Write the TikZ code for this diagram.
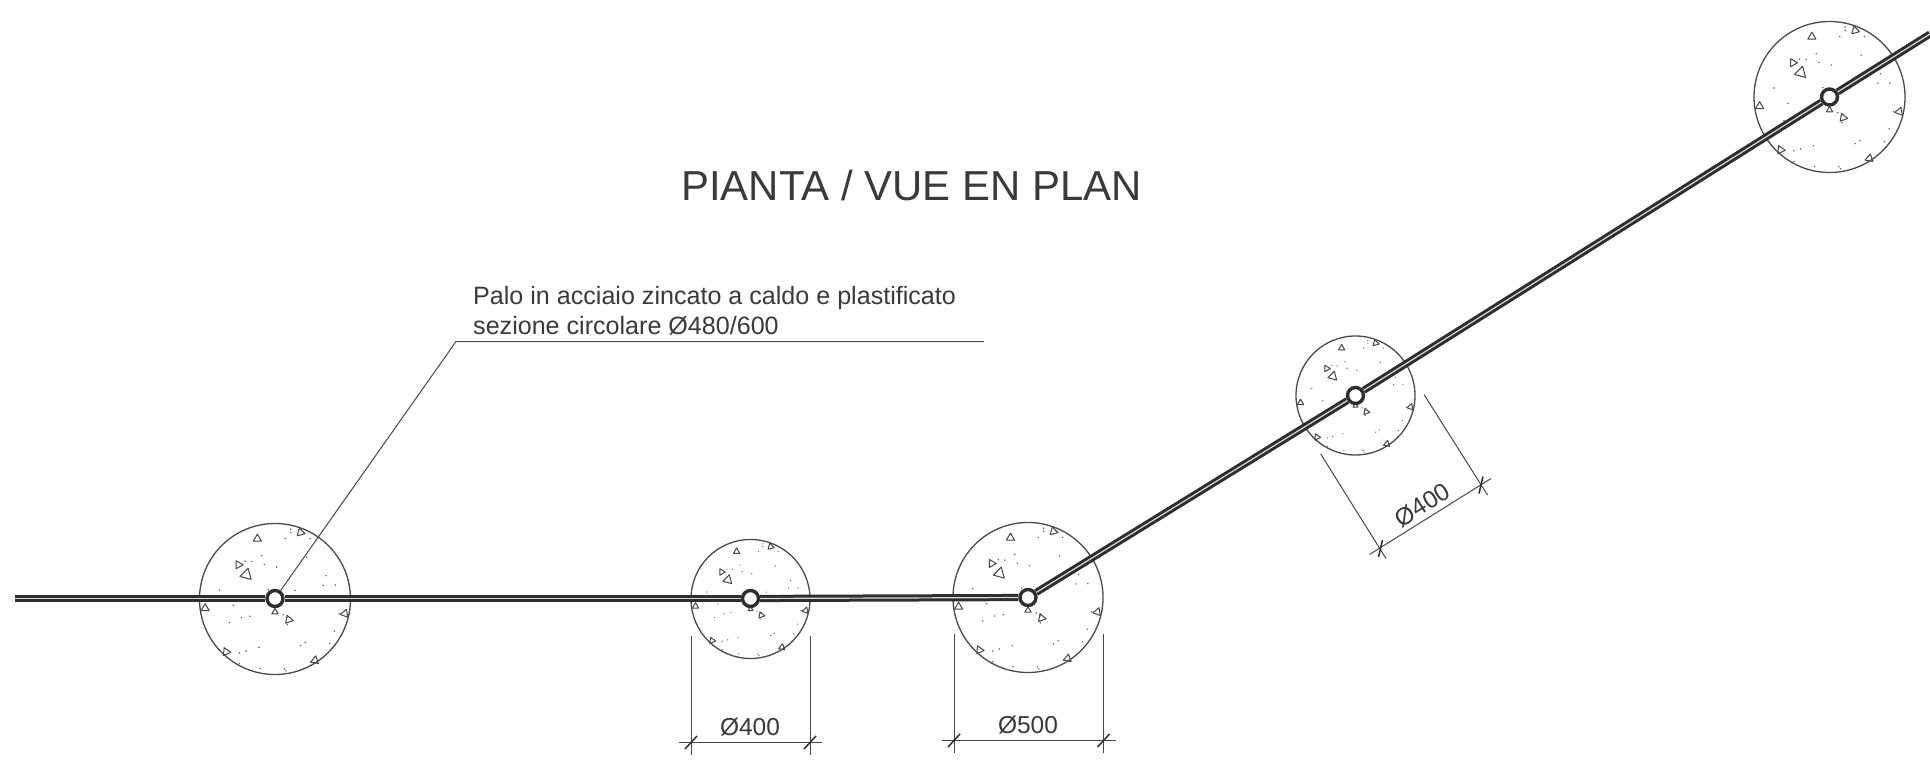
\documentclass[tikz,border=0pt]{standalone}
\usepackage{fontspec}
\setmainfont{Liberation Sans}
\tikzset{
  plinth/.style={circle,draw=ringgrey,line width=1.3pt,fill=white,inner sep=0pt},
  pole/.style={circle,draw=poleblack,line width=3.4pt,fill=white,inner sep=0pt,minimum size=16pt},
  pipe/.style={draw=poleblack,line width=3pt,double=pipecore,double distance=1.2pt},
  thin line/.style={draw=linegrey,line width=1pt},
  aggregate/.style={draw=linegrey,line width=1pt,line join=round},
  speck/.style={fill=dotgrey,draw=none},
  dimtick/.style={draw=poleblack,line width=1.5pt},
  dimtext/.style={font=\fontsize{24.5}{28}\selectfont,text=textgrey,inner sep=0pt},
}
\definecolor{ringgrey}{HTML}{4A4A4A}
\definecolor{poleblack}{HTML}{2E2E2E}
\definecolor{pipecore}{HTML}{D8D8D8}
\definecolor{linegrey}{HTML}{484848}
\definecolor{dotgrey}{HTML}{666666}
\definecolor{textgrey}{HTML}{3A3A3A}
\newcommand{\concretefill}[3]{%
  \begin{scope}[shift={(#1,#2)},scale=#3]
    \foreach \px/\py/\ps/\pr in {262/117/14/-90,392/98/14/15,205/195/14/0,229/225/20/-75,105/326/14/-90,168/457/14/5,435/483/14/-80,525/342/14/-70,356/360/14/10,315/337/11/-90}{
      \draw[aggregate] ($(\px-315,\py-298)+(\pr:\ps)$) -- ($(\px-315,\py-298)+(\pr+120:\ps)$) -- ($(\px-315,\py-298)+(\pr+240:\ps)$) -- cycle;
    }
    \foreach \px/\py in {362/88,362/98,346/116,420/116,275/168,245/185,225/184,283/194,320/202,410/172,468/228,460/257,496/256,148/271,295/270,375/272,190/317,240/350,214/354,178/369,340/345,352/353,352/375,508/342,494/394,480/432,406/429,392/438,267/444,228/454,208/460,208/492,270/507,343/508,348/514}{
      \fill[speck] (\px-315,\py-298) circle[radius=2.6];
    }
  \end{scope}}
\usetikzlibrary{calc}
\begin{document}
\begin{tikzpicture}[x=1pt,y=-1pt]
\useasboundingbox (0,0) rectangle (1930,776);
\fill[white] (0,0) rectangle (1930,776);

% plinths
\node[plinth,minimum size=151pt] (c1) at (275,599) {};
\node[plinth,minimum size=119pt] (c2) at (750.5,599) {};
\node[plinth,minimum size=150pt] (c3) at (1028,597.5) {};
\node[plinth,minimum size=119pt] (c4) at (1355.5,395.5) {};
\node[plinth,minimum size=151pt] (c5) at (1829.5,97) {};
\concretefill{275}{599}{0.3326}
\concretefill{750.5}{599}{0.262}
\concretefill{1028}{597.5}{0.3304}
\concretefill{1355.5}{395.5}{0.262}
\concretefill{1829.5}{97}{0.3326}

% poles
\node[pole] (p1) at (275,598.5) {};
\node[pole] (p2) at (750.5,598.5) {};
\node[pole] (p3) at (1028,597.5) {};
\node[pole] (p4) at (1355.5,395.5) {};
\node[pole] (p5) at (1829.5,97) {};
\coordinate (pipestart) at (15,598.5);
\coordinate (pipeend) at (1930,34);
\draw[pipe] (pipestart) -- (p1);
\draw[pipe] (p1) -- (p2);
\draw[pipe] (p2) -- (p3);
\draw[pipe] (p3) -- (p4);
\draw[pipe] (p4) -- (p5);
\draw[pipe] (p5) -- (pipeend);

% title
\node[font=\fontsize{41.9}{48}\selectfont,text=textgrey,inner sep=0pt] (title) at (911.5,186) {PIANTA / VUE EN PLAN};

% leader
\node[font=\fontsize{25.1}{30}\selectfont,text=textgrey,inner sep=0pt,align=left,anchor=west] (lbl) at (473,311) {Palo in acciaio zincato a caldo e plastificato\\sezione circolare Ø480/600};
\coordinate (leaderknee) at (456,341.5);
\coordinate (leaderend) at (984,341.5);
\draw[thin line] (p1) -- (leaderknee) -- (leaderend);

% dimension 400 (horizontal)
\draw[thin line] (691,636) -- (691,755);
\draw[thin line] (810,636) -- (810,755);
\draw[thin line] (679,742.5) -- (822,742.5);
\draw[dimtick] (685,749) -- (697,736);
\draw[dimtick] (804,749) -- (816,736);
\node[dimtext] (d2) at (750,727.5) {Ø400};

% dimension 500 (horizontal)
\draw[thin line] (954,634) -- (954,753);
\draw[thin line] (1103.5,634) -- (1103.5,753);
\draw[thin line] (942,740.5) -- (1116,740.5);
\draw[dimtick] (948,747) -- (960,734);
\draw[dimtick] (1097.5,747) -- (1109.5,734);
\node[dimtext] (d3) at (1028,725.5) {Ø500};

% dimension 400 (oblique)
\draw[thin line] (1320.7,454) -- (1386,558.5);
\draw[thin line] (1424,394.5) -- (1487.5,495);
\draw[thin line] (1369.5,554.5) -- (1491,478.5);
\draw[dimtick] (1378.5,557) -- (1382.5,540);
\draw[dimtick] (1479,493.5) -- (1483,476.5);
\node[dimtext,rotate=32] (d4) at (1422.5,505) {Ø400};
\end{tikzpicture}
\end{document}
